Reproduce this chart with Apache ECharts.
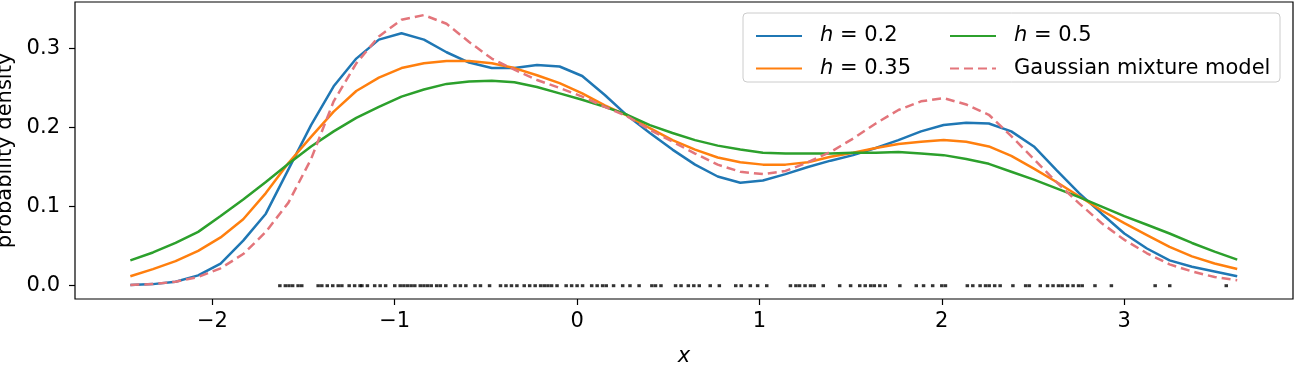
<!DOCTYPE html>
<html>
<head>
<meta charset="utf-8">
<script src="https://cdn.jsdelivr.net/npm/echarts@6/dist/echarts.min.js"></script>
<style>
  html, body { margin: 0; padding: 0; background: #fff; }
  #chart { width: 1305px; height: 369px; }
</style>
</head>
<body>
<div id="chart"></div>
<script>
// grid de x ou les densites sont evaluees
const xGrid = [
  -2.450, -2.326, -2.202, -2.078, -1.955, -1.831, -1.707, -1.583, -1.459, -1.335,
  -1.211, -1.087, -0.963, -0.840, -0.716, -0.592, -0.468, -0.344, -0.220, -0.096,
  0.028, 0.152, 0.275, 0.399, 0.523, 0.647, 0.771, 0.895, 1.019, 1.143,
  1.266, 1.390, 1.514, 1.638, 1.762, 1.886, 2.010, 2.134, 2.258, 2.381,
  2.505, 2.629, 2.753, 2.877, 3.001, 3.125, 3.249, 3.372, 3.496, 3.620
];

const kdeH02 = [
  0.001, 0.002, 0.005, 0.013, 0.028, 0.057, 0.091, 0.147, 0.203, 0.252,
  0.287, 0.311, 0.319, 0.311, 0.295, 0.282, 0.275, 0.275, 0.279, 0.277,
  0.265, 0.241, 0.215, 0.193, 0.172, 0.153, 0.138, 0.130, 0.133, 0.141,
  0.150, 0.158, 0.165, 0.174, 0.184, 0.195, 0.203, 0.206, 0.205, 0.195,
  0.176, 0.146, 0.117, 0.091, 0.066, 0.047, 0.032, 0.024, 0.018, 0.012
];

const kdeH035 = [
  0.012, 0.021, 0.031, 0.044, 0.061, 0.084, 0.117, 0.155, 0.188, 0.220,
  0.246, 0.263, 0.275, 0.281, 0.284, 0.284, 0.281, 0.275, 0.266, 0.256,
  0.243, 0.228, 0.215, 0.199, 0.184, 0.172, 0.162, 0.156, 0.153, 0.153,
  0.156, 0.163, 0.168, 0.174, 0.179, 0.182, 0.184, 0.182, 0.176, 0.164,
  0.148, 0.131, 0.113, 0.095, 0.079, 0.064, 0.049, 0.037, 0.028, 0.021
];

const kdeH05 = [
  0.032, 0.042, 0.054, 0.068, 0.088, 0.109, 0.131, 0.154, 0.176, 0.195,
  0.212, 0.226, 0.239, 0.248, 0.255, 0.258, 0.259, 0.257, 0.251, 0.243,
  0.235, 0.226, 0.216, 0.203, 0.193, 0.184, 0.177, 0.172, 0.168, 0.167,
  0.167, 0.167, 0.168, 0.168, 0.169, 0.167, 0.165, 0.160, 0.154, 0.144,
  0.134, 0.123, 0.112, 0.100, 0.088, 0.077, 0.066, 0.054, 0.043, 0.033
];

const gmmDensity = [
  0.001, 0.002, 0.005, 0.011, 0.022, 0.040, 0.068, 0.105, 0.160, 0.233,
  0.281, 0.315, 0.336, 0.342, 0.331, 0.308, 0.287, 0.273, 0.260, 0.250,
  0.239, 0.226, 0.214, 0.197, 0.182, 0.167, 0.153, 0.144, 0.141, 0.145,
  0.156, 0.169, 0.186, 0.205, 0.222, 0.233, 0.237, 0.229, 0.216, 0.189,
  0.160, 0.131, 0.104, 0.079, 0.058, 0.041, 0.027, 0.018, 0.011, 0.007
];

// echantillons (rug plot sur y = 0)
const samples = [
  -1.63, -1.60, -1.58, -1.56, -1.53, -1.51, -1.42, -1.40, -1.37, -1.34,
  -1.31, -1.29, -1.25, -1.22, -1.19, -1.18, -1.15, -1.11, -1.08, -1.05,
  -1.00, -0.97, -0.95, -0.93, -0.91, -0.89, -0.86, -0.84, -0.82, -0.80,
  -0.77, -0.75, -0.72, -0.67, -0.64, -0.61, -0.56, -0.53, -0.48, -0.42,
  -0.39, -0.36, -0.33, -0.29, -0.26, -0.23, -0.20, -0.18, -0.16, -0.14,
  -0.11, -0.06, -0.03, 0.00, 0.03, 0.08, 0.11, 0.14, 0.16, 0.20,
  0.25, 0.29, 0.34, 0.41, 0.43, 0.46, 0.54, 0.57, 0.61, 0.64,
  0.67, 0.73, 0.78, 0.87, 0.90, 0.95, 0.99, 1.04, 1.17, 1.20,
  1.22, 1.25, 1.28, 1.30, 1.35, 1.44, 1.50, 1.55, 1.58, 1.61,
  1.63, 1.66, 1.69, 1.77, 1.86, 1.90, 1.95, 2.00, 2.02, 2.14,
  2.17, 2.21, 2.24, 2.26, 2.29, 2.32, 2.39, 2.46, 2.48, 2.54,
  2.58, 2.61, 2.64, 2.66, 2.69, 2.72, 2.75, 2.77, 2.84, 2.93,
  3.17, 3.25, 3.56
];

const xTicks = [-2, -1, 0, 1, 2, 3];
const yTicks = [0, 0.1, 0.2, 0.3];

const FONT = "DejaVu Sans";
const LW = 2.5;

const pairs = (ys) => xGrid.map((x, i) => [x, ys[i]]);
const fmtX = (v) => (v < 0 ? "\u2212" + Math.abs(v) : String(v));
const legendFmt = (name) => (name.startsWith("h") ? "{i|h}" + name.slice(1) : name);

const legendBase = {
  orient: "vertical",
  top: 19,
  itemWidth: 46,
  itemHeight: 14,
  itemGap: 8.6,
  formatter: legendFmt,
  // pas de marqueur dans l'icone, juste le trait
  itemStyle: { color: "transparent", borderWidth: 0, opacity: 0 },
  textStyle: {
    fontFamily: FONT,
    fontSize: 21,
    lineHeight: 24,
    color: "#000",
    padding: [0, 0, 0, 13],
    rich: { i: { fontFamily: FONT, fontStyle: "italic", fontSize: 21, color: "#000" } }
  }
};

function lineSeries(name, ys, color, extra) {
  return Object.assign({
    name,
    type: "line",
    data: pairs(ys),
    symbol: "none",
    smooth: false,
    z: 3,
    lineStyle: { color, width: LW },
    itemStyle: { color }
  }, extra || {});
}

const chart = echarts.init(document.getElementById("chart"));

chart.setOption({
  animation: false,
  backgroundColor: "#fff",
  grid: {
    left: 75, right: 12, top: 2, bottom: 70,
    containLabel: false,
    outerBoundsMode: "none",
    show: true, borderColor: "#000", borderWidth: 1.2, backgroundColor: "transparent"
  },
  graphic: [{
    type: "rect",
    shape: { x: 743, y: 13, width: 537, height: 69, r: 4 },
    style: { fill: "rgba(255,255,255,0.8)", stroke: "#cccccc", lineWidth: 1 },
    z: 1
  }],
  legend: [
    Object.assign({}, legendBase, { left: 750, data: ["h = 0.2", "h = 0.35"] }),
    Object.assign({}, legendBase, { left: 944, data: ["h = 0.5", "Gaussian mixture model"] })
  ],
  xAxis: {
    type: "value",
    min: -2.7535,
    max: 3.926,
    name: "x",
    nameLocation: "middle",
    nameGap: 47,
    nameTextStyle: { fontFamily: FONT, fontSize: 21, fontStyle: "italic", color: "#000" },
    axisLine: { show: false, onZero: false },
    splitLine: { show: false },
    axisTick: { show: true, length: 6, customValues: xTicks, lineStyle: { color: "#000", width: 1.2 } },
    axisLabel: {
      customValues: xTicks,
      margin: 12,
      fontFamily: FONT, fontSize: 21, color: "#000",
      formatter: fmtX
    }
  },
  yAxis: {
    type: "value",
    min: -0.0168,
    max: 0.3585,
    name: "probability density",
    nameLocation: "middle",
    nameGap: 58,
    nameRotate: 90,
    nameTextStyle: { fontFamily: FONT, fontSize: 21, color: "#000" },
    axisLine: { show: false, onZero: false },
    splitLine: { show: false },
    axisTick: { show: true, length: 6, customValues: yTicks, lineStyle: { color: "#000", width: 1.2 } },
    axisLabel: {
      customValues: yTicks,
      margin: 15,
      fontFamily: FONT, fontSize: 21, color: "#000",
      formatter: (v) => v.toFixed(1)
    }
  },
  series: [
    lineSeries("h = 0.2", kdeH02, "#1f77b4"),
    lineSeries("h = 0.35", kdeH035, "#ff7f0e"),
    lineSeries("h = 0.5", kdeH05, "#2ca02c"),
    lineSeries("Gaussian mixture model", gmmDensity, "#e3757b", {
      lineStyle: { color: "#e3757b", width: LW, type: [9, 5] }
    }),
    {
      name: "samples",
      type: "scatter",
      data: samples.map((x) => [x, 0]),
      symbol: "rect",
      symbolSize: [3.5, 3],
      itemStyle: { color: "#000" },
      silent: true,
      z: 4
    }
  ]
});
</script>
</body>
</html>
